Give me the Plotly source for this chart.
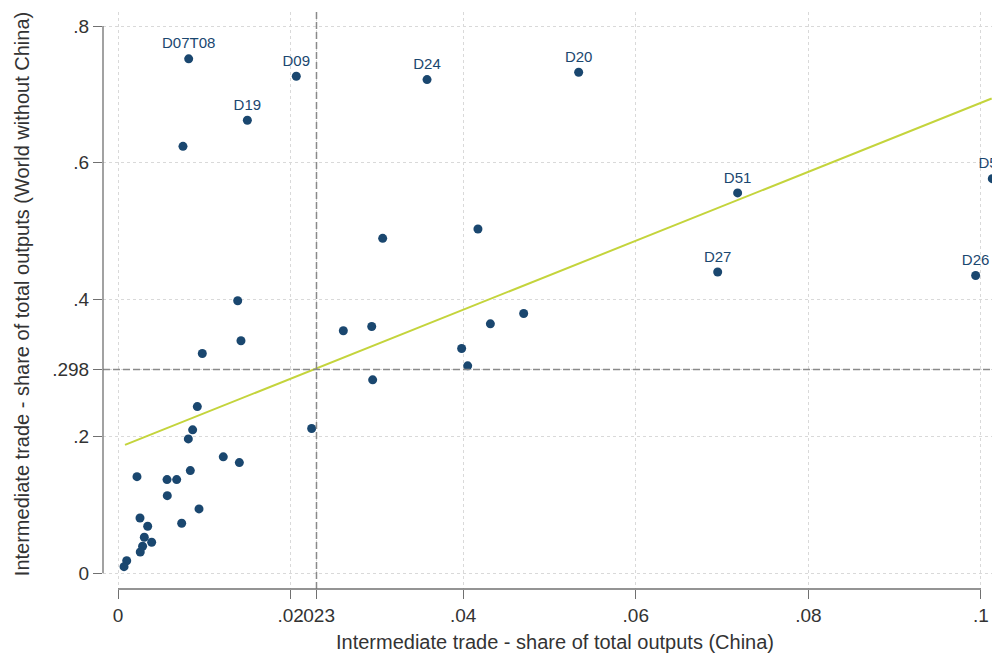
import plotly.graph_objects as go

# sector shares: China (x) vs world without China (y)
labels = ["D07T08", "D09", "D19", "D24", "D20", "D51", "D50", "D27", "D26",
          "", "", "", "", "", "", "", "", "", "", "", "", "", "", "", "", "",
          "", "", "", "", "", "", "", "", "", "", "", "", "", ""]
china = [0.00819, 0.02066, 0.01499, 0.03581, 0.05338, 0.07180, 0.10131, 0.06949, 0.09938,
         0.00753, 0.03067, 0.04171, 0.01387, 0.04701, 0.02611, 0.02940, 0.04315, 0.01425,
         0.00977, 0.03982, 0.04052, 0.02951, 0.00919, 0.00865, 0.00815, 0.02244, 0.01220,
         0.01406, 0.00838, 0.00220, 0.00568, 0.00680, 0.00571, 0.00939, 0.00255, 0.00344,
         0.00738, 0.00305, 0.00390, 0.00285, 0.00258, 0.00101, 0.00070]
world = [0.752, 0.7266, 0.6622, 0.7217, 0.7324, 0.556, 0.5769, 0.4404, 0.4354,
         0.6241, 0.4896, 0.5033, 0.3984, 0.3798, 0.3545, 0.3608, 0.3647, 0.3399,
         0.3213, 0.3286, 0.3033, 0.2828, 0.2437, 0.2097, 0.1965, 0.2116, 0.1702,
         0.1618, 0.1501, 0.1413, 0.1370, 0.1370, 0.1135, 0.0941, 0.0809, 0.0688,
         0.0731, 0.0527, 0.0454, 0.0395, 0.0312, 0.0184, 0.0097]
labels = labels + [""] * (len(china) - len(labels))

# linear fit
fit_x = [0.00081, 0.10124]
fit_y = [0.1877, 0.6940]

# mean reference lines
x_mean = 0.023
y_mean = 0.298

x_ticks = [0, 0.02, 0.023, 0.04, 0.06, 0.08, 0.1]
x_ticktext = ["0", ".02", ".023", ".04", ".06", ".08", ".1"]
y_ticks = [0, 0.2, 0.298, 0.4, 0.6, 0.8]
y_ticktext = ["0", ".2", ".298", ".4", ".6", ".8"]

navy = "#1a476f"
axis_col = "#707070"
text_col = "#333333"
grid_col = "#d9d9d9"
font = "Liberation Sans, Arial, sans-serif"

fig = go.Figure()
fig.add_trace(go.Scatter(x=fit_x, y=fit_y, mode="lines",
                         line=dict(color="#c4d43c", width=2), hoverinfo="skip"))
fig.add_trace(go.Scatter(x=china, y=world, mode="markers+text", text=labels,
                         textposition="top center",
                         textfont=dict(family=font, size=15, color=navy),
                         marker=dict(color=navy, size=9), cliponaxis=False))

dash = dict(color="#8a8a8a", width=1.5, dash="7px,3px")
fig.add_shape(type="line", xref="x", yref="paper", x0=x_mean, x1=x_mean, y0=0, y1=1, line=dash)
fig.add_shape(type="line", xref="paper", yref="y", x0=0, x1=1, y0=y_mean, y1=y_mean, line=dash)
# stata style axis lines spanning only the tick range
fig.add_shape(type="line", xref="x", yref="paper", x0=x_ticks[0], x1=x_ticks[-1], y0=0, y1=0,
              line=dict(color=axis_col, width=1.3))
fig.add_shape(type="line", xref="paper", yref="y", x0=0, x1=0, y0=y_ticks[0], y1=y_ticks[-1],
              line=dict(color=axis_col, width=1.3))

fig.update_layout(
    width=1000, height=654,
    margin=dict(l=95, r=0, t=4, b=73),
    paper_bgcolor="white", plot_bgcolor="white",
    showlegend=False,
    font=dict(family=font, color=text_col),
    xaxis=dict(range=[-0.001738, 0.10313], tickvals=x_ticks, ticktext=x_ticktext,
               tickangle=0, ticks="outside", ticklen=9, tickcolor=axis_col,
               tickfont=dict(size=19, color=text_col),
               showgrid=True, gridcolor=grid_col, griddash="dot", gridwidth=1,
               zeroline=False, showline=False),
    yaxis=dict(range=[-0.02295, 0.8205], tickvals=y_ticks, ticktext=y_ticktext,
               ticks="outside", ticklen=9, tickcolor=axis_col,
               tickfont=dict(size=19, color=text_col),
               showgrid=True, gridcolor=grid_col, griddash="dot", gridwidth=1,
               zeroline=False, showline=False),
    annotations=[
        dict(text="Intermediate trade - share of total outputs (China)",
             xref="paper", yref="paper", x=0.4994, y=-0.0919, xanchor="center", yanchor="middle",
             showarrow=False, font=dict(size=20, color=text_col)),
        dict(text="Intermediate trade - share of total outputs (World without China)",
             xref="paper", yref="paper", x=-0.0895, y=0.511, xanchor="center", yanchor="middle",
             textangle=-90, showarrow=False, font=dict(size=20, color=text_col)),
    ],
)

fig.write_html("out.html")
